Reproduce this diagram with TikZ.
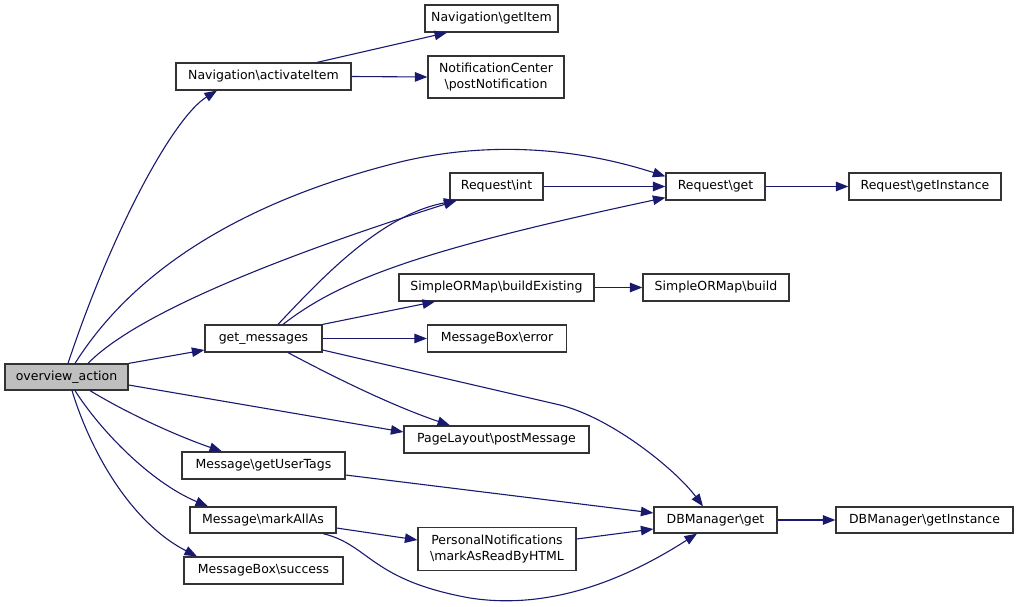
\documentclass[tikz,border=0pt]{standalone}
\usepackage{fontspec}
\setmainfont{DejaVu Sans}
\usetikzlibrary{arrows.meta,calc}
\definecolor{edgeblue}{HTML}{191970}
\definecolor{boxline}{HTML}{333333}
\tikzset{
  fn/.style={draw=boxline, line width=1.2pt, fill=white, inner sep=0pt, align=center,
    font=\fontsize{12.5}{16}\selectfont},
  fnroot/.style={fn, fill=black!25},
  call/.style={draw=edgeblue, line width=1.1pt, -{Triangle[length=12.5pt,width=9.5pt]}}
}
\begin{document}
\begin{tikzpicture}[x=1pt,y=-1pt]
\useasboundingbox (0,0) rectangle (1019,607);
% nodes
\node[fnroot, minimum width=123, minimum height=26] (ov) at (66.5,377) {overview\_action};
\node[fn, minimum width=175, minimum height=27] (nav) at (263.5,76.5) {Navigation\textbackslash activateItem};
\node[fn, minimum width=133, minimum height=27] (navget) at (491.5,18.5) {Navigation\textbackslash getItem};
\node[fn, minimum width=136, minimum height=42] (notif) at (496,77) {NotificationCenter\\\textbackslash postNotification};
\node[fn, minimum width=93, minimum height=27] (rint) at (496.5,186.5) {Request\textbackslash int};
\node[fn, minimum width=99, minimum height=27] (rget) at (715.5,186.5) {Request\textbackslash get};
\node[fn, minimum width=152, minimum height=27] (rgi) at (925,186.5) {Request\textbackslash getInstance};
\node[fn, minimum width=195, minimum height=27] (sbe) at (496.5,287.5) {SimpleORMap\textbackslash buildExisting};
\node[fn, minimum width=146, minimum height=27] (sb) at (716,287.5) {SimpleORMap\textbackslash build};
\node[fn, minimum width=117, minimum height=27] (gm) at (263.5,338.5) {get\_messages};
\node[fn, minimum width=139, minimum height=27] (mbe) at (497,338.5) {MessageBox\textbackslash error};
\node[fn, minimum width=185, minimum height=27] (plp) at (496.5,439.5) {PageLayout\textbackslash postMessage};
\node[fn, minimum width=163, minimum height=27] (gut) at (263.5,465.5) {Message\textbackslash getUserTags};
\node[fn, minimum width=146, minimum height=26] (maa) at (263,520) {Message\textbackslash markAllAs};
\node[fn, minimum width=159, minimum height=27] (mbs) at (263.5,570.5) {MessageBox\textbackslash success};
\node[fn, minimum width=158, minimum height=43] (pn) at (497,549) {PersonalNotifications\\\textbackslash markAsReadByHTML};
\node[fn, minimum width=123, minimum height=26] (dbg) at (715.5,520) {DBManager\textbackslash get};
\node[fn, minimum width=177, minimum height=26] (dbgi) at (924.5,520) {DBManager\textbackslash getInstance};
% edges from overview_action
\draw[call] ($(ov.north)+(1.5,0)$) .. controls (113,228) and (174,117) .. ($(nav.south)+(-46.5,0)$);
\draw[call] ($(ov.north)+(8.5,0)$) .. controls (115,300) and (200,212) .. (400,162)
  .. controls (500,138) and (590,152) .. ($(rget.north west)+(0,4)$);
\draw[call] ($(ov.north)+(21.5,0)$) .. controls (140,310) and (300,250) .. ($(rint.south)+(-40,0)$);
\draw[call] (ov.north east) -- ($(gm.west)+(0,11.5)$);
\draw[call] ($(ov.east)+(0,8)$) -- ($(plp.west)+(0,-7.5)$);
\draw[call] ($(ov.south)+(23.5,0)$) .. controls (130,415) and (180,437) .. ($(gut.north)+(-41.5,0)$);
\draw[call] ($(ov.south)+(8.5,0)$) .. controls (100,430) and (150,482) .. ($(maa.north)+(-55,0)$);
\draw[call] ($(ov.south)+(5.5,0)$) .. controls (90,450) and (130,522) .. ($(mbs.north)+(-66.5,0)$);
% Navigation
\draw[call] ($(nav.north)+(53.5,0)$) -- ($(navget.south)+(-44.5,0)$);
\draw[call] (nav.east) -- (notif.west);
% Request
\draw[call] (rint.east) -- (rget.west);
\draw[call] (rget.east) -- (rgi.west);
% get_messages
\draw[call] ($(gm.north)+(14.5,0)$) .. controls (320,280) and (380,215) .. ($(rint.south)+(-40,0)$);
\draw[call] ($(gm.north)+(19.5,0)$) .. controls (340,280) and (420,250) .. ($(rget.south west)+(0,-3)$);
\draw[call] (gm.north east) -- ($(sbe.south)+(-61.5,0)$);
\draw[call] (gm.east) -- (mbe.west);
\draw[call] ($(gm.south)+(24.5,0)$) .. controls (330,375) and (390,405) .. ($(plp.north)+(-46.5,0)$);
\draw[call] ($(gm.east)+(0,11.5)$) -- (560,405) .. controls (612,418) and (676,470) .. ($(dbg.north)+(-12.5,0)$);
\draw[call] (sbe.east) -- (sb.west);
% Message
\draw[call] ($(gut.east)+(0,9.5)$) -- ($(dbg.west)+(0,-7)$);
\draw[call] ($(maa.east)+(0,8)$) -- ($(pn.west)+(0,-9)$);
\draw[call] ($(maa.south)+(60,0)$) .. controls (370,545) and (370,580) .. (470,598)
  .. controls (560,612) and (640,570) .. ($(dbg.south)+(-18.5,0)$);
\draw[call] ($(pn.east)+(0,-10)$) -- ($(dbg.west)+(0,9)$);
\draw[call] (dbg.east) -- (dbgi.west);
\end{tikzpicture}
\end{document}
